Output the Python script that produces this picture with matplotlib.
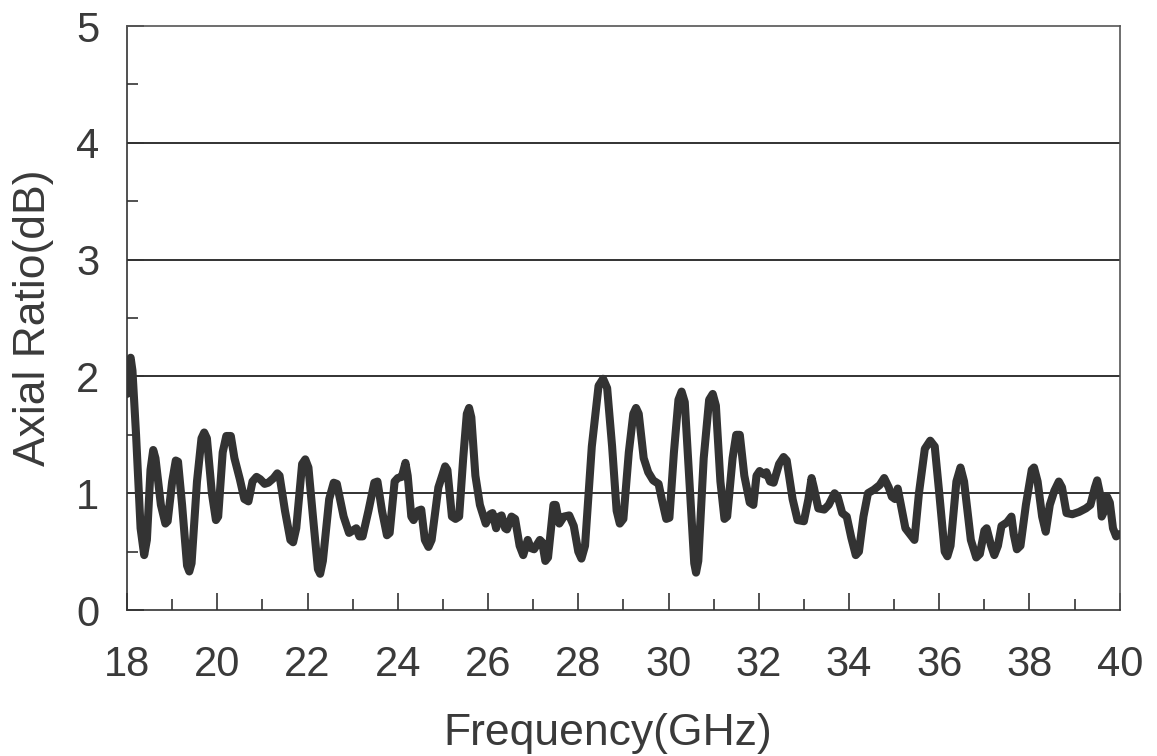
import matplotlib
matplotlib.use('Agg')
import matplotlib.pyplot as plt
from matplotlib.ticker import MultipleLocator

# values (GHz, dB)
freq = [18.0, 18.04, 18.08, 18.12, 18.2, 18.3, 18.38, 18.44, 18.52, 18.58, 18.63,
        18.75, 18.85, 18.9, 19.0, 19.08, 19.13, 19.22, 19.33, 19.38, 19.43, 19.55,
        19.65, 19.71, 19.77, 19.88, 19.97, 20.02, 20.12, 20.2, 20.3, 20.38, 20.5,
        20.6, 20.69, 20.78, 20.87, 20.95, 21.05, 21.13, 21.25, 21.33, 21.38, 21.5,
        21.62, 21.68, 21.75, 21.88, 21.95, 22.02, 22.12, 22.23, 22.28, 22.34, 22.48,
        22.58, 22.65, 22.8, 22.92, 23.0, 23.08, 23.15, 23.22, 23.35, 23.48, 23.55,
        23.65, 23.76, 23.82, 23.93, 24.0, 24.09, 24.17, 24.22, 24.3, 24.35, 24.45,
        24.52, 24.6, 24.68, 24.75, 24.9, 25.05, 25.1, 25.2, 25.28, 25.36, 25.45,
        25.53, 25.58, 25.63, 25.72, 25.82, 25.95, 26.05, 26.1, 26.18, 26.25, 26.3,
        26.38, 26.42, 26.52, 26.6, 26.7, 26.78, 26.88, 26.95, 27.02, 27.15, 27.2,
        27.27, 27.33, 27.45, 27.5, 27.58, 27.68, 27.8, 27.9, 28.0, 28.07, 28.15,
        28.3, 28.45, 28.55, 28.64, 28.75, 28.85, 28.92, 29.0, 29.12, 29.22, 29.28,
        29.34, 29.45, 29.55, 29.66, 29.78, 29.85, 29.95, 30.02, 30.12, 30.22, 30.29,
        30.36, 30.48, 30.57, 30.61, 30.66, 30.78, 30.9, 30.98, 31.05, 31.15, 31.24,
        31.3, 31.42, 31.5, 31.58, 31.68, 31.8, 31.88, 31.95, 32.02, 32.12, 32.17,
        32.25, 32.33, 32.45, 32.55, 32.62, 32.75, 32.86, 33.0, 33.1, 33.17, 33.22,
        33.32, 33.45, 33.55, 33.68, 33.75, 33.85, 33.95, 34.05, 34.15, 34.22, 34.32,
        34.42, 34.55, 34.68, 34.78, 34.88, 34.95, 35.02, 35.08, 35.15, 35.25, 35.35,
        35.45, 35.55, 35.68, 35.8, 35.9, 36.0, 36.12, 36.18, 36.25, 36.38, 36.47,
        36.55, 36.7, 36.82, 36.9, 37.0, 37.05, 37.15, 37.22, 37.3, 37.38, 37.5,
        37.6, 37.65, 37.72, 37.8, 37.92, 38.05, 38.1, 38.18, 38.28, 38.36, 38.45,
        38.55, 38.65, 38.72, 38.82, 38.95, 39.1, 39.25, 39.35, 39.45, 39.5, 39.56,
        39.6, 39.66, 39.72, 39.78, 39.85, 39.92, 40.0]
ar = [1.85, 2.12, 2.16, 2.05, 1.5, 0.7, 0.47, 0.6, 1.2, 1.37, 1.3,
      0.9, 0.74, 0.76, 1.1, 1.28, 1.27, 0.9, 0.38, 0.33, 0.4, 1.1,
      1.47, 1.52, 1.47, 1.0, 0.77, 0.8, 1.35, 1.49, 1.49, 1.3, 1.12,
      0.95, 0.93, 1.1, 1.14, 1.12, 1.08, 1.09, 1.13, 1.17, 1.15, 0.85,
      0.6, 0.58, 0.7, 1.25, 1.29, 1.22, 0.8, 0.35, 0.31, 0.42, 0.95,
      1.09, 1.08, 0.8, 0.66, 0.68, 0.7, 0.63, 0.63, 0.85, 1.09, 1.1,
      0.85, 0.64, 0.66, 1.1, 1.13, 1.14, 1.26, 1.15, 0.8, 0.77, 0.85,
      0.86, 0.6, 0.54, 0.6, 1.05, 1.23, 1.2, 0.8, 0.78, 0.8, 1.3,
      1.68, 1.73, 1.65, 1.15, 0.9, 0.74, 0.82, 0.83, 0.7, 0.8, 0.81,
      0.7, 0.69, 0.8, 0.78, 0.55, 0.47, 0.6, 0.53, 0.52, 0.6, 0.58,
      0.42, 0.45, 0.9, 0.9, 0.74, 0.8, 0.81, 0.72, 0.5, 0.44, 0.55,
      1.4, 1.92, 1.98, 1.9, 1.4, 0.85, 0.74, 0.78, 1.35, 1.68, 1.73,
      1.68, 1.3, 1.18, 1.11, 1.08, 0.95, 0.78, 0.79, 1.35, 1.8, 1.87,
      1.78, 1.0, 0.4, 0.32, 0.42, 1.3, 1.8, 1.85, 1.75, 1.1, 0.78,
      0.8, 1.3, 1.5, 1.5, 1.15, 0.92, 0.9, 1.15, 1.19, 1.16, 1.18,
      1.1, 1.09, 1.25, 1.31, 1.28, 0.95, 0.77, 0.76, 0.95, 1.13, 1.05,
      0.87, 0.86, 0.9, 1.0, 0.97, 0.83, 0.8, 0.62, 0.47, 0.5, 0.8,
      1.0, 1.03, 1.07, 1.13, 1.05, 0.97, 0.95, 1.04, 0.9, 0.7, 0.65,
      0.6, 1.0, 1.38, 1.45, 1.4, 1.0, 0.5, 0.46, 0.55, 1.1, 1.22,
      1.1, 0.6, 0.45, 0.48, 0.68, 0.7, 0.55, 0.47, 0.55, 0.72, 0.75,
      0.8, 0.65, 0.52, 0.55, 0.9, 1.2, 1.22, 1.1, 0.8, 0.67, 0.9,
      1.02, 1.1, 1.05, 0.83, 0.82, 0.84, 0.87, 0.9, 1.05, 1.11, 1.0,
      0.8, 0.85, 0.97, 0.92, 0.7, 0.63, 0.65]

plt.rcParams['font.family'] = ['Liberation Sans', 'DejaVu Sans']

fig = plt.figure(figsize=(11.57, 7.56), dpi=100)
ax = fig.add_axes([0.1098, 0.1931, 0.858, 0.7725])

# gridlines at whole dB
for g in [1, 2, 3, 4]:
    ax.axhline(g, color='#222222', linewidth=1.3, zorder=1)

ax.plot(freq, ar, color='#333333', linewidth=5.8, solid_joinstyle='round',
        solid_capstyle='round', zorder=3)

ax.set_xlim(18, 40)
ax.set_ylim(0, 5)
ax.xaxis.set_major_locator(MultipleLocator(2))
ax.xaxis.set_minor_locator(MultipleLocator(1))
ax.yaxis.set_major_locator(MultipleLocator(1))
ax.yaxis.set_minor_locator(MultipleLocator(0.5))

ax.tick_params(which='both', direction='in', colors='#333333', labelcolor='#3a3a3a',
               labelsize=30, top=False, right=False)
ax.tick_params(axis='x', which='major', length=12, width=1.2, pad=25)
ax.tick_params(axis='x', which='minor', length=8, width=1.2)
ax.tick_params(axis='y', which='major', length=12, width=1.2, pad=20)
ax.tick_params(axis='y', which='minor', length=8, width=1.2)

for s in ax.spines.values():
    s.set_color('#555555')
    s.set_linewidth(1.2)
ax.spines['left'].set_color('#333333')
ax.spines['bottom'].set_color('#333333')

ax.set_xlabel('Frequency(GHz)', fontsize=32, color='#3a3a3a', labelpad=20, x=0.484)
ax.set_ylabel('Axial Ratio(dB)', fontsize=32, color='#3a3a3a', labelpad=16)

fig.savefig('out.png', dpi=100)
